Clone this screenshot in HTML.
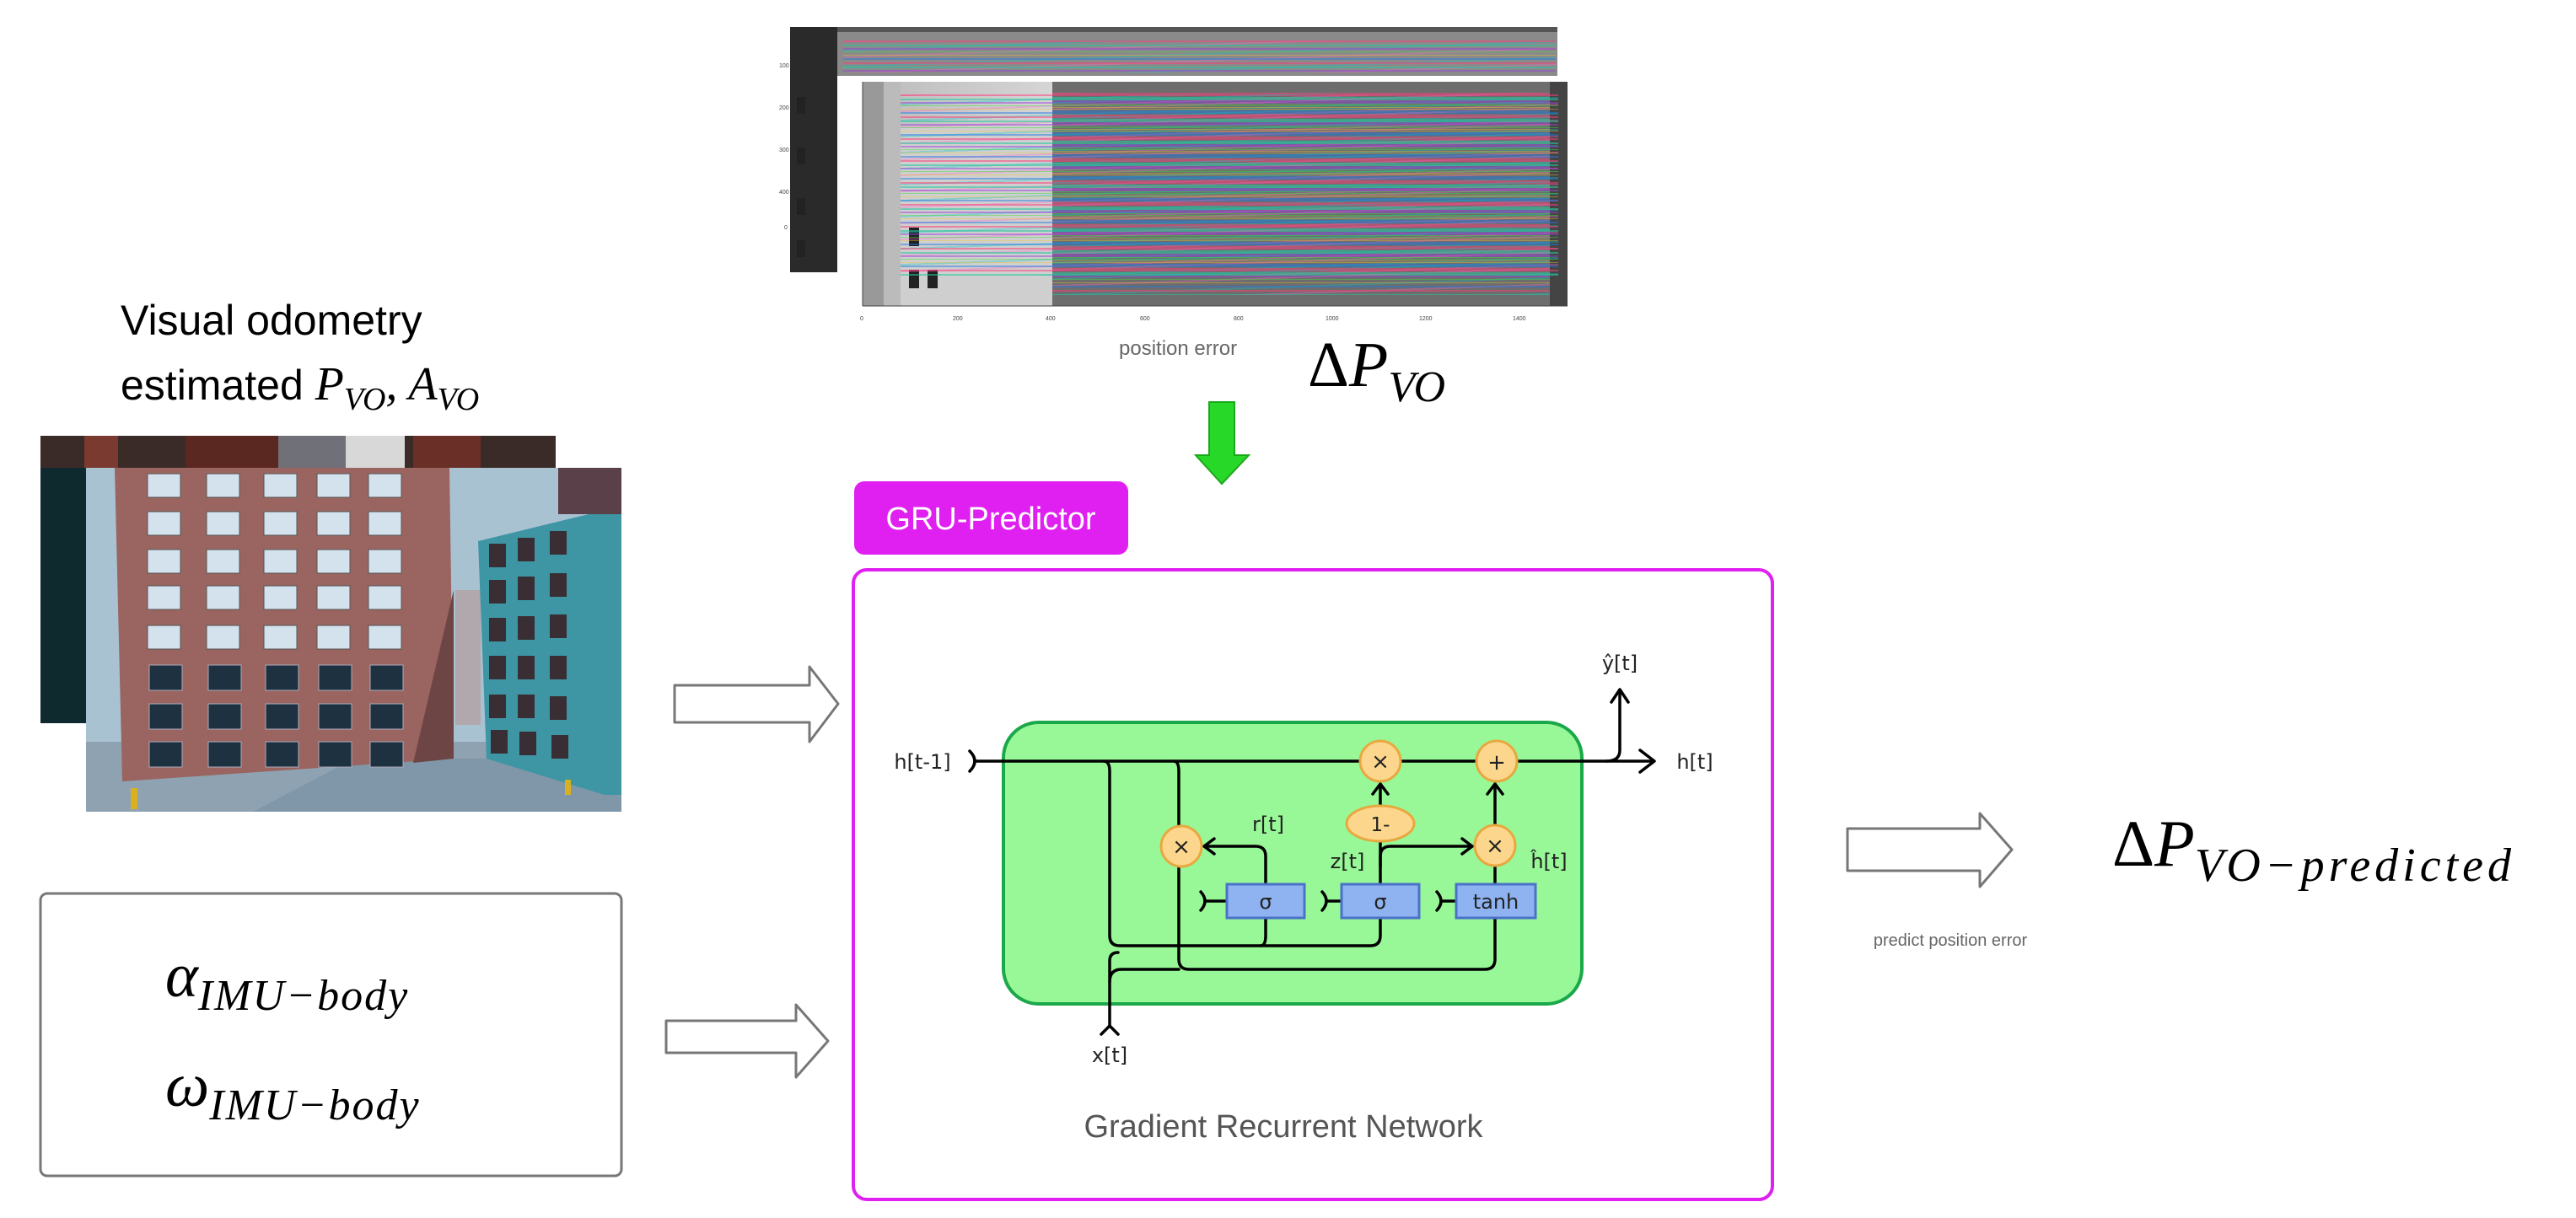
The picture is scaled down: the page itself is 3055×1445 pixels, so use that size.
<!DOCTYPE html>
<html><head><meta charset="utf-8"><style>
html,body{margin:0;padding:0;background:#fff;}
body{width:3055px;height:1445px;position:relative;overflow:hidden;font-family:"Liberation Sans",sans-serif;}
.abs{position:absolute;}
.stripes1{background:
repeating-linear-gradient(180deg, rgba(255,60,120,.55) 0 2px, transparent 2px 5px, rgba(40,200,160,.6) 5px 7px, transparent 7px 9px, rgba(150,60,220,.5) 9px 11px, transparent 11px 13px, rgba(60,220,60,.5) 13px 14px, transparent 14px 17px, rgba(240,200,40,.45) 17px 18px, transparent 18px 21px, rgba(30,120,230,.5) 21px 23px, transparent 23px 26px),
repeating-linear-gradient(178deg, rgba(255,100,200,.35) 0 2px, transparent 2px 11px, rgba(0,200,200,.35) 11px 13px, transparent 13px 19px);}
</style></head><body>
<svg class="abs" style="left:0;top:0" width="3055" height="1445" xmlns="http://www.w3.org/2000/svg">
<defs>
<linearGradient id="gr" x1="0" y1="0" x2="1" y2="0"><stop offset="0" stop-color="#bbb"/><stop offset="0.3" stop-color="#d8d8d8"/><stop offset="0.6" stop-color="#888"/><stop offset="1" stop-color="#555"/></linearGradient>
</defs>
<rect x="937" y="32" width="910" height="58" fill="#8a8a8a"/>
<rect x="937" y="32" width="910" height="6" fill="#555"/>
<rect x="937" y="32" width="56" height="291" fill="#2a2a2a"/>
<rect x="1023" y="97" width="836" height="266" fill="url(#gr)"/>
<rect x="1023" y="97" width="25" height="266" fill="#999"/>
<rect x="1048" y="97" width="20" height="266" fill="#bbb"/>
<rect x="1068" y="150" width="180" height="213" fill="#cfcfcf"/>
<rect x="1248" y="97" width="590" height="266" fill="#6d6d6d"/>
<rect x="1838" y="97" width="21" height="266" fill="#444"/>
<g fill="#222">
<rect x="945" y="115" width="10" height="20"/><rect x="945" y="175" width="10" height="20"/><rect x="945" y="235" width="10" height="20"/><rect x="945" y="285" width="10" height="20"/>
<rect x="1078" y="270" width="12" height="22"/><rect x="1078" y="320" width="12" height="22"/><rect x="1100" y="320" width="12" height="22"/>
</g>
<g font-size="7" fill="#444" font-family="Liberation Sans">
<text x="1020" y="380">0</text><text x="1130" y="380">200</text><text x="1240" y="380">400</text><text x="1352" y="380">600</text><text x="1463" y="380">800</text><text x="1572" y="380">1000</text><text x="1683" y="380">1200</text><text x="1794" y="380">1400</text>
<text x="924" y="80">100</text><text x="924" y="130">200</text><text x="924" y="180">300</text><text x="924" y="230">400</text><text x="930" y="272">0</text>
</g>
<line x1="1023" y1="363" x2="1859" y2="363" stroke="#444" stroke-width="1"/>
<line x1="1023" y1="97" x2="1023" y2="363" stroke="#444" stroke-width="1"/>
</svg>
<div class="abs stripes1" style="left:1000px;top:48px;width:845px;height:38px;opacity:.9"></div>
<div class="abs stripes1" style="left:1068px;top:112px;width:780px;height:215px;opacity:.95"></div>
<div class="abs stripes1" style="left:1248px;top:110px;width:590px;height:240px;opacity:.9"></div>

<div class="abs" style="left:1327px;top:400px;font-size:24px;color:#666;">position error</div>
<div class="abs" style="left:1551px;top:395px;font-family:'Liberation Serif',serif;font-style:italic;font-size:76px;color:#000;line-height:1"><span style="font-style:normal">Δ</span>P<sub style="font-size:52px;vertical-align:-18px">VO</sub></div>

<div class="abs" style="left:143px;top:342px;font-size:50px;line-height:76px;color:#000;">Visual odometry<br>estimated <span style="font-family:'Liberation Serif',serif;font-style:italic;font-size:56px">P<sub style="font-size:38px;vertical-align:-12px">VO</sub>, A<sub style="font-size:38px;vertical-align:-12px">VO</sub></span></div>

<svg class="abs" style="left:0;top:0" width="3055" height="1445" xmlns="http://www.w3.org/2000/svg">
<path d="M1434 477 H1464 V540 H1481 L1449 574 L1418 540 H1434 Z" fill="#28d828" stroke="#1aa81a" stroke-width="2"/>
<rect x="48" y="517" width="611" height="341" fill="#0f2a2e"/>
<rect x="48" y="517" width="611" height="38" fill="#3a2a28"/>
<rect x="100" y="517" width="40" height="38" fill="#7a3a30"/>
<rect x="220" y="517" width="110" height="38" fill="#5a2820"/>
<rect x="330" y="517" width="80" height="38" fill="#707078"/>
<rect x="410" y="517" width="70" height="38" fill="#d8d8d8"/>
<rect x="490" y="517" width="80" height="38" fill="#6a3028"/>
<rect x="102" y="555" width="635" height="408" fill="#a9c2d2"/>
<rect x="102" y="880" width="635" height="83" fill="#8ea2b2"/>
<polygon points="300,963 420,900 737,900 737,963" fill="#7f97a8"/>
<polygon points="136,555 533,555 538,900 145,927" fill="#9a6560"/>
<polygon points="538,700 538,900 490,905" fill="#6e4545"/>
<rect x="540" y="700" width="30" height="160" fill="#b0a8ac"/>
<polygon points="567,642 698,610 737,610 737,943 717,943 577,900" fill="#3e95a3"/>
<rect x="662" y="555" width="75" height="55" fill="#5a4048"/>
<g fill="#d4e2ee" stroke="#555" stroke-width="1">
<rect x="175" y="562" width="39" height="28"/><rect x="245" y="562" width="39" height="28"/><rect x="313" y="562" width="39" height="28"/><rect x="376" y="562" width="39" height="28"/><rect x="437" y="562" width="39" height="28"/>
<rect x="175" y="607" width="39" height="28"/><rect x="245" y="607" width="39" height="28"/><rect x="313" y="607" width="39" height="28"/><rect x="376" y="607" width="39" height="28"/><rect x="437" y="607" width="39" height="28"/>
<rect x="175" y="652" width="39" height="28"/><rect x="245" y="652" width="39" height="28"/><rect x="313" y="652" width="39" height="28"/><rect x="376" y="652" width="39" height="28"/><rect x="437" y="652" width="39" height="28"/>
<rect x="175" y="695" width="39" height="28"/><rect x="245" y="695" width="39" height="28"/><rect x="313" y="695" width="39" height="28"/><rect x="376" y="695" width="39" height="28"/><rect x="437" y="695" width="39" height="28"/>
<rect x="175" y="742" width="39" height="28"/><rect x="245" y="742" width="39" height="28"/><rect x="313" y="742" width="39" height="28"/><rect x="376" y="742" width="39" height="28"/><rect x="437" y="742" width="39" height="28"/>
</g>
<g fill="#1e3140" stroke="#aab" stroke-width="1">
<rect x="177" y="789" width="39" height="30"/><rect x="247" y="789" width="39" height="30"/><rect x="315" y="789" width="39" height="30"/><rect x="378" y="789" width="39" height="30"/><rect x="439" y="789" width="39" height="30"/>
<rect x="177" y="835" width="39" height="30"/><rect x="247" y="835" width="39" height="30"/><rect x="315" y="835" width="39" height="30"/><rect x="378" y="835" width="39" height="30"/><rect x="439" y="835" width="39" height="30"/>
<rect x="177" y="880" width="39" height="30"/><rect x="247" y="880" width="39" height="30"/><rect x="315" y="880" width="39" height="30"/><rect x="378" y="880" width="39" height="30"/><rect x="439" y="880" width="39" height="30"/>
</g>
<g fill="#3a2e35">
<rect x="580" y="645" width="20" height="28"/><rect x="614" y="638" width="20" height="28"/><rect x="652" y="630" width="20" height="28"/>
<rect x="580" y="688" width="20" height="28"/><rect x="614" y="684" width="20" height="28"/><rect x="652" y="680" width="20" height="28"/>
<rect x="580" y="733" width="20" height="28"/><rect x="614" y="731" width="20" height="28"/><rect x="652" y="729" width="20" height="28"/>
<rect x="580" y="778" width="20" height="28"/><rect x="614" y="778" width="20" height="28"/><rect x="652" y="778" width="20" height="28"/>
<rect x="580" y="824" width="20" height="28"/><rect x="614" y="824" width="20" height="28"/><rect x="652" y="826" width="20" height="28"/>
<rect x="582" y="866" width="20" height="28"/><rect x="616" y="868" width="20" height="28"/><rect x="654" y="872" width="20" height="28"/>
</g>
<rect x="155" y="935" width="8" height="25" fill="#d8b020"/>
<rect x="670" y="925" width="7" height="18" fill="#d8b020"/>

<g fill="#fff" stroke="#777" stroke-width="3" stroke-linejoin="round">
<path d="M800 813 H960 V791 L994 835 L960 880 V857 H800 Z"/>
<path d="M790 1211 H944 V1192 L982 1235 L944 1278 V1249 H790 Z"/>
<path d="M2191 983 H2348 V965 L2386 1008 L2348 1052 V1033 H2191 Z"/>
</g>

<rect x="48" y="1060" width="689" height="335" rx="8" fill="#fff" stroke="#777" stroke-width="3"/>

<rect x="1013" y="571" width="325" height="87" rx="12" fill="#e020f0"/>
<text x="1175" y="628" font-size="38" fill="#fff" text-anchor="middle" font-family="Liberation Sans">GRU-Predictor</text>
<rect x="1012" y="676" width="1090" height="747" rx="16" fill="#fff" stroke="#e020f0" stroke-width="4"/>
<rect x="1190" y="857" width="686" height="334" rx="42" fill="#98f898" stroke="#1aa84a" stroke-width="4"/>

<g fill="none" stroke="#000" stroke-width="3.5" stroke-linecap="round" stroke-linejoin="round">
<path d="M1157 903 H1960"/>
<path d="M1945 890 L1962 903 L1945 916"/>
<path d="M1150 891 Q1162 903 1150 915"/>
<path d="M1309 903 Q1316 903 1316 915 V1110 Q1316 1122 1328 1122 H1625 Q1637 1122 1637 1110 V1089"/>
<path d="M1495 1122 Q1501 1122 1501 1110 V1089"/>
<path d="M1392 903 Q1398 903 1398 915 V1138 Q1398 1150 1410 1150 H1761 Q1773 1150 1773 1138 V1089"/>
<path d="M1316 1217 V1140 Q1316 1130 1326 1130"/>
<path d="M1316 1165 Q1316 1150 1330 1150 H1398"/>
<path d="M1306 1227 L1316 1217 L1326 1227"/>
<path d="M1501 1049 V1016 Q1501 1004 1489 1004 H1428"/>
<path d="M1440 995 L1428 1004 L1440 1013"/>
<path d="M1637 1049 V998"/>
<path d="M1637 1028 V1016 Q1637 1004 1649 1004 H1746"/>
<path d="M1734 995 L1746 1004 L1734 1013"/>
<path d="M1637 956 V930"/>
<path d="M1628 942 L1637 930 L1646 942"/>
<path d="M1773 1049 V1028"/>
<path d="M1773 978 V930"/>
<path d="M1764 942 L1773 930 L1782 942"/>
<path d="M1905 903 Q1921 903 1921 890 V820"/>
<path d="M1911 833 L1921 818 L1931 833"/>
<path d="M1424 1058 Q1434 1069 1424 1080 M1430 1069 H1455"/>
<path d="M1568 1058 Q1578 1069 1568 1080 M1574 1069 H1591"/>
<path d="M1704 1058 Q1714 1069 1704 1080 M1710 1069 H1727"/>
</g>
<g fill="#fcd68c" stroke="#e8a840" stroke-width="3">
<circle cx="1637" cy="903" r="24"/>
<circle cx="1775" cy="903" r="24"/>
<circle cx="1401" cy="1004" r="24"/>
<circle cx="1773" cy="1003" r="24"/>
<ellipse cx="1637" cy="977" rx="40" ry="21"/>
</g>
<g fill="#8fb2f0" stroke="#4a72c8" stroke-width="3">
<rect x="1455" y="1049" width="92" height="40"/>
<rect x="1591" y="1049" width="92" height="40"/>
<rect x="1727" y="1049" width="94" height="40"/>
</g>
<g font-family="DejaVu Sans, sans-serif" font-size="26" fill="#222" text-anchor="middle">
<text x="1637" y="912">×</text><text x="1775" y="913">+</text><text x="1401" y="1013">×</text><text x="1773" y="1012">×</text>
<text x="1637" y="986" font-size="23">1-</text>
<text x="1501" y="1078" font-size="24">σ</text><text x="1637" y="1078" font-size="24">σ</text><text x="1774" y="1078" font-size="24">tanh</text>
<text x="1094" y="912" font-size="24">h[t-1]</text>
<text x="2010" y="912" font-size="24">h[t]</text>
<text x="1921" y="795" font-size="24">ŷ[t]</text>
<text x="1504" y="986" font-size="24">r[t]</text>
<text x="1598" y="1030" font-size="24">z[t]</text>
<text x="1837" y="1030" font-size="24">ĥ[t]</text>
<text x="1316" y="1260" font-size="24">x[t]</text>
</g>
<text x="1522" y="1349" font-size="38" fill="#555" text-anchor="middle" font-family="Liberation Sans">Gradient Recurrent Network</text>
<text x="2313" y="1122" font-size="20" fill="#666" text-anchor="middle" font-family="Liberation Sans">predict position error</text>
</svg>

<div class="abs" style="left:196px;top:1105px;font-family:'Liberation Serif',serif;font-style:italic;font-size:74px;line-height:106px;color:#000;white-space:nowrap">α<sub style="font-size:52px;vertical-align:-16px;letter-spacing:2px">IMU−body</sub><br>ω<sub style="font-size:52px;vertical-align:-16px;letter-spacing:2px">IMU−body</sub></div>

<div class="abs" style="left:2505px;top:962px;font-family:'Liberation Serif',serif;font-style:italic;font-size:78px;line-height:1;color:#000;white-space:nowrap"><span style="font-style:normal">Δ</span>P<sub style="font-size:56px;vertical-align:-18px;letter-spacing:5px">VO−predicted</sub></div>
</body></html>
